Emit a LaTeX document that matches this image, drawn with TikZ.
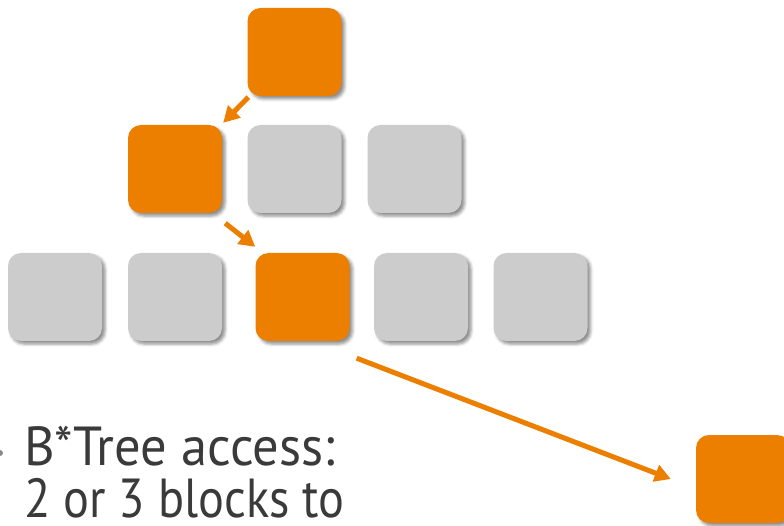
\documentclass[tikz,border=0pt]{standalone}
\usepackage{fontspec}
\setmainfont[FakeStretch=0.88]{PT Sans}
\usetikzlibrary{shadows.blur,arrows.meta,calc}
\definecolor{blockorange}{HTML}{EC7F00}
\definecolor{blockgray}{HTML}{CCCCCC}
\definecolor{textgray}{HTML}{3A3A3A}
\tikzset{
  block/.style={minimum width=94pt, minimum height=88pt, inner sep=0pt,
    rounded corners=13pt,
    blur shadow={shadow xshift=3pt, shadow yshift=-3pt,
      shadow blur radius=3pt, shadow opacity=45}},
  hot/.style={block, fill=blockorange},
  cold/.style={block, fill=blockgray},
  link/.style={draw=blockorange, line width=5pt,
    -{Triangle[length=16pt,width=17pt]}},
  caption/.style={anchor=base west, inner sep=0pt, text=textgray,
    font=\fontsize{55}{62}\selectfont}
}
\begin{document}
\begin{tikzpicture}[x=1pt,y=-1pt]
  \useasboundingbox (0,0) rectangle (784,526);
  % root
  \node[hot] (root) at (294.5,52) {};
  % middle level
  \node[hot]  (m1) at (175,169) {};
  \node[cold] (m2) at (294.5,169) {};
  \node[cold] (m3) at (414.5,169) {};
  % leaf level
  \node[cold] (l1) at (55,297) {};
  \node[cold] (l2) at (175,297) {};
  \node[hot]  (l3) at (302.5,297) {};
  \node[cold] (l4) at (421,297) {};
  \node[cold] (l5) at (540.5,297) {};
  % data block
  \node[hot] (data) at (743,479) {};
  % access path
  \draw[link] ($(root.south west)+(1,1)$) -- ($(m1.north east)+(1,-2)$);
  \draw[link] ($(m1.south east)+(3,10)$) -- ($(l3.north west)+(0,-6)$);
  \draw[link] ($(l3.south east)+(7,17)$) -- ($(data.west)+(-25,0)$);
  % bullet and text
  \fill[textgray!60] (0,453) circle (3pt);
  \node[caption] (t1) at (24,465) {\scalebox{1.085}[1]{B*Tree access:}};
  \node[caption] (t2) at (24,517) {2 or 3 blocks to};
\end{tikzpicture}
\end{document}
